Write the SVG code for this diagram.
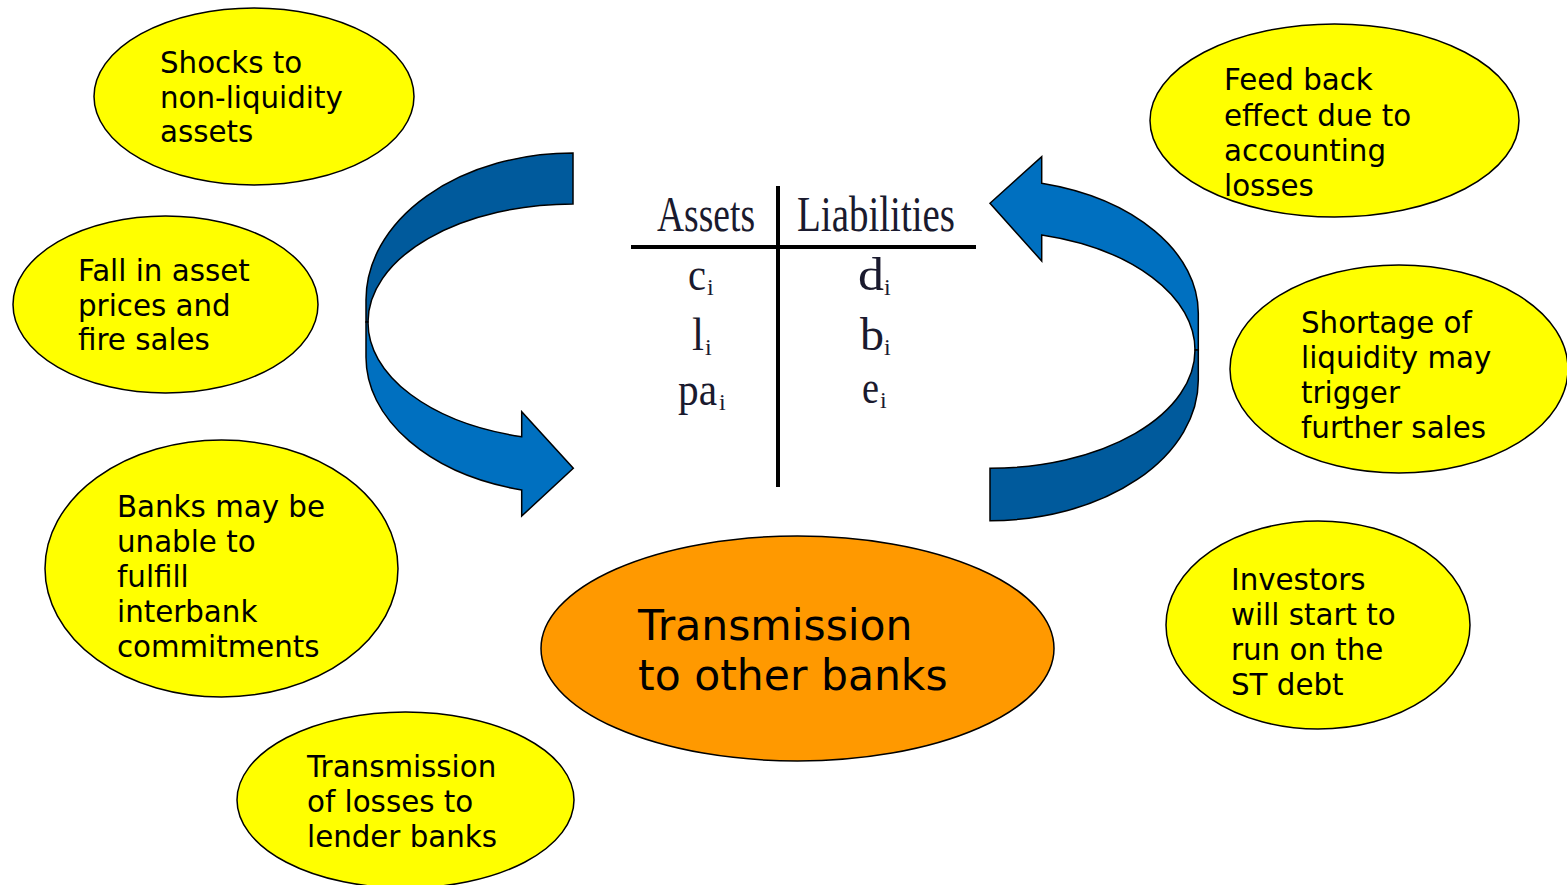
<svg xmlns="http://www.w3.org/2000/svg" width="1567" height="885" viewBox="0 0 1567 885">
<style>
.y{fill:#FFFF00;stroke:#000;stroke-width:1.5}
.o{fill:#FF9900;stroke:#000;stroke-width:1.5}
.t{font-family:"DejaVu Sans","Liberation Sans",sans-serif;font-size:29.3px;fill:#000}
.tb{font-family:"DejaVu Sans","Liberation Sans",sans-serif;font-size:42.5px;fill:#000}
.lt{fill:#0070C0;stroke:#000;stroke-width:1.5;stroke-linejoin:miter}
.dk{fill:#005A9C;stroke:#000;stroke-width:1.5;stroke-linejoin:miter}
.bs{font-family:"Liberation Serif","Times New Roman",serif;fill:#1a1a2e}
.ln{stroke:#000;stroke-width:4}
</style>
<rect width="1567" height="885" fill="#fff"/>
<g id="connectors">
  <path class="dk" d="M573,153 A207,147 0 0 0 366,300 L366,322 L368,322 A205,118 0 0 1 573,204 Z"/>
  <path class="lt" d="M368,322 A205,118 0 0 0 521.7,436.7 L521.7,411.7 L573.3,468.3 L521.7,516 L521.7,490 A207,137 0 0 1 366,357 L366,322 Z"/>
  <path class="lt" d="M1041.7,183.3 A208.3,133.9 0 0 1 1198.3,313 L1198.3,350 L1195,350 A205,118.8 0 0 0 1041.7,235 L1041.7,261 L990,203.3 L1041.7,156.7 Z"/>
  <path class="dk" d="M1195,350 L1198.3,350 L1198.3,380 A208.3,140.7 0 0 1 990,520.7 L990,468.3 A205,118.3 0 0 0 1195,350 Z"/>
</g>
<g id="balance-sheet">
  <line class="ln" x1="778" y1="186" x2="778" y2="487"/>
  <line class="ln" x1="631" y1="247" x2="976" y2="247"/>
  <text class="bs" x="657" y="231" font-size="50" textLength="98" lengthAdjust="spacingAndGlyphs">Assets</text>
  <text class="bs" x="797" y="231" font-size="50" textLength="158" lengthAdjust="spacingAndGlyphs">Liabilities</text>
  <text class="bs" x="688" y="290" font-size="46" textLength="18" lengthAdjust="spacingAndGlyphs">c</text>
  <text class="bs" x="707" y="295" font-size="24">i</text>
  <text class="bs" x="692" y="350" font-size="46" textLength="12" lengthAdjust="spacingAndGlyphs">l</text>
  <text class="bs" x="705" y="355" font-size="24">i</text>
  <text class="bs" x="678" y="405" font-size="46" textLength="39" lengthAdjust="spacingAndGlyphs">pa</text>
  <text class="bs" x="719" y="410" font-size="24">i</text>
  <text class="bs" x="858" y="290" font-size="46" textLength="26" lengthAdjust="spacingAndGlyphs">d</text>
  <text class="bs" x="884" y="295" font-size="24">i</text>
  <text class="bs" x="860" y="350" font-size="46" textLength="24" lengthAdjust="spacingAndGlyphs">b</text>
  <text class="bs" x="884" y="355" font-size="24">i</text>
  <text class="bs" x="862" y="403" font-size="46" textLength="17" lengthAdjust="spacingAndGlyphs">e</text>
  <text class="bs" x="880" y="408" font-size="24">i</text>
</g>
<g id="shocks">
  <ellipse class="y" cx="254" cy="96.5" rx="160" ry="88.5"/>
  <text class="t"><tspan x="160" y="73">Shocks to</tspan><tspan x="160" y="107.5">non-liquidity</tspan><tspan x="160" y="142">assets</tspan></text>
</g>
<g id="fall-in-asset-prices">
  <ellipse class="y" cx="165.5" cy="304.5" rx="152.5" ry="88.5"/>
  <text class="t"><tspan x="78" y="281">Fall in asset</tspan><tspan x="78" y="315.5">prices and</tspan><tspan x="78" y="350">fire sales</tspan></text>
</g>
<g id="banks-unable">
  <ellipse class="y" cx="221.5" cy="568.5" rx="176.5" ry="128.5"/>
  <text class="t"><tspan x="117" y="517">Banks may be</tspan><tspan x="117" y="552">unable to</tspan><tspan x="117" y="587">fulfill</tspan><tspan x="117" y="622">interbank</tspan><tspan x="117" y="657">commitments</tspan></text>
</g>
<g id="transmission-losses">
  <ellipse class="y" cx="405.5" cy="800" rx="168.5" ry="88"/>
  <text class="t"><tspan x="307" y="777">Transmission</tspan><tspan x="307" y="812">of losses to</tspan><tspan x="307" y="847">lender banks</tspan></text>
</g>
<g id="transmission-other-banks">
  <ellipse class="o" cx="797.5" cy="648.5" rx="256.5" ry="112.5"/>
  <text class="tb"><tspan x="638" y="640">Transmission</tspan><tspan x="638" y="690">to other banks</tspan></text>
</g>
<g id="feed-back">
  <ellipse class="y" cx="1334.5" cy="120.5" rx="184.5" ry="96.5"/>
  <text class="t"><tspan x="1224" y="90">Feed back</tspan><tspan x="1224" y="126">effect due to</tspan><tspan x="1224" y="161">accounting</tspan><tspan x="1224" y="196">losses</tspan></text>
</g>
<g id="shortage-liquidity">
  <ellipse class="y" cx="1399" cy="369" rx="169" ry="104"/>
  <text class="t"><tspan x="1301" y="333">Shortage of</tspan><tspan x="1301" y="368">liquidity may</tspan><tspan x="1301" y="403">trigger</tspan><tspan x="1301" y="438">further sales</tspan></text>
</g>
<g id="investors-run">
  <ellipse class="y" cx="1318" cy="625" rx="152" ry="104"/>
  <text class="t"><tspan x="1231" y="590">Investors</tspan><tspan x="1231" y="625">will start to</tspan><tspan x="1231" y="660">run on the</tspan><tspan x="1231" y="695">ST debt</tspan></text>
</g>
</svg>
